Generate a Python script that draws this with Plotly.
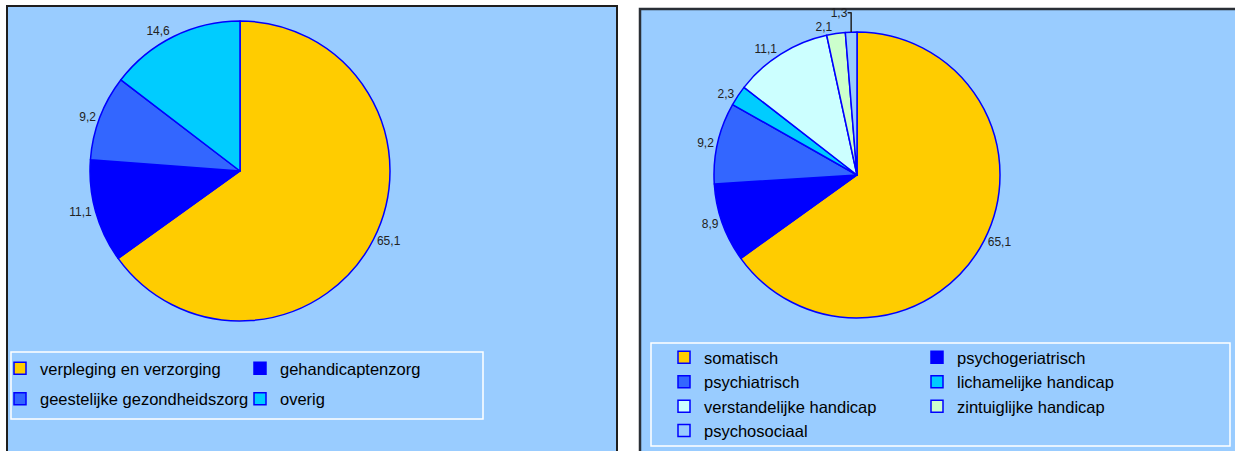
import plotly.graph_objects as go

W, H = 1235, 451

left_labels = ["verpleging en verzorging", "gehandicaptenzorg",
               "geestelijke gezondheidszorg", "overig"]
left_values = [65.1, 11.1, 9.2, 14.6]
left_colors = ["#FFCC00", "#0000FF", "#3366FF", "#00CCFF"]

right_labels = ["somatisch", "psychogeriatrisch", "psychiatrisch",
                "lichamelijke handicap", "verstandelijke handicap",
                "zintuiglijke handicap", "psychosociaal"]
right_values = [65.1, 8.9, 9.2, 2.3, 11.1, 2.1, 1.3]
right_colors = ["#FFCC00", "#0000FF", "#3366FF", "#00CCFF",
                "#CCFFFF", "#CCFFCC", "#99CCFF"]

BG = "#99CCFF"
EDGE = "#0000FF"
FONT = "Liberation Sans, Arial, sans-serif"
LEG_FONT = 16.5


def px_x(x):
    return x / W


def px_y(y):
    return 1 - y / H


fig = go.Figure()

fig.add_trace(go.Pie(
    labels=left_labels, values=left_values, sort=False,
    direction="clockwise", rotation=0,
    marker=dict(colors=left_colors, line=dict(color=EDGE, width=1.5)),
    textposition="outside", texttemplate="%{value:.1f}",
    outsidetextfont=dict(size=12, color="#222222", family=FONT),
    domain=dict(x=[px_x(90), px_x(390)], y=[px_y(321), px_y(21)]),
    showlegend=False, hoverinfo="label+value",
))

fig.add_trace(go.Pie(
    labels=right_labels, values=right_values, sort=False,
    direction="clockwise", rotation=0,
    marker=dict(colors=right_colors, line=dict(color=EDGE, width=1.5)),
    textposition="outside", texttemplate="%{value:.1f}",
    outsidetextfont=dict(size=12, color="#222222", family=FONT),
    domain=dict(x=[px_x(714), px_x(1000)], y=[px_y(318), px_y(32)]),
    showlegend=False, hoverinfo="label+value",
))


# Legend entries (two columns per chart, filled row by row like the original)
def add_entries(labels, colors, legends):
    for i, (lab, col) in enumerate(zip(labels, colors)):
        fig.add_trace(go.Scatter(
            x=[None], y=[None], mode="markers", name=lab,
            marker=dict(symbol="square", size=12, color=col,
                        line=dict(color=EDGE, width=1.5)),
            legend=legends[i % 2], legendgroup=f"{legends[i % 2]}_{i}",
            showlegend=True, hoverinfo="skip",
        ))


add_entries(left_labels, left_colors, ["legend", "legend2"])
add_entries(right_labels, right_colors, ["legend3", "legend4"])

shapes = [
    dict(type="rect", xref="paper", yref="paper",
         x0=px_x(7), x1=px_x(617), y0=px_y(470), y1=px_y(6),
         fillcolor=BG, line=dict(color="#1e1e1e", width=2), layer="below"),
    dict(type="rect", xref="paper", yref="paper",
         x0=px_x(640), x1=px_x(1250), y0=px_y(470), y1=px_y(9),
         fillcolor=BG, line=dict(color="#2a2f36", width=2.5), layer="below"),
    dict(type="rect", xref="paper", yref="paper",
         x0=px_x(11), x1=px_x(483), y0=px_y(419), y1=px_y(352),
         fillcolor=BG, line=dict(color="#FFFFFF", width=1.5), layer="below"),
    dict(type="rect", xref="paper", yref="paper",
         x0=px_x(651), x1=px_x(1230), y0=px_y(446), y1=px_y(343),
         fillcolor=BG, line=dict(color="#FFFFFF", width=1.5), layer="below"),
]


def leg(x_px, top_px, gap):
    return dict(
        orientation="v", x=px_x(x_px), y=px_y(top_px),
        xanchor="left", yanchor="top",
        bgcolor="rgba(0,0,0,0)", borderwidth=0,
        font=dict(size=LEG_FONT, family=FONT, color="black"),
        traceorder="grouped", tracegroupgap=gap,
        itemclick=False, itemdoubleclick=False,
    )


fig.update_layout(
    width=W, height=H,
    margin=dict(l=0, r=0, t=0, b=0, autoexpand=False),
    paper_bgcolor="white",
    plot_bgcolor="rgba(0,0,0,0)",
    separators=",.",
    font=dict(family=FONT, color="black"),
    shapes=shapes,
    showlegend=True,
    xaxis=dict(visible=False),
    yaxis=dict(visible=False),
    legend=leg(0, 351, 6),
    legend2=leg(240, 351, 6),
    legend3=leg(664, 340, 0),
    legend4=leg(917, 340, 0),
)

fig.write_html(
    "out.html",
    config={"displayModeBar": False},
    post_script="document.body.style.margin='0';document.body.style.overflow='hidden';",
)
